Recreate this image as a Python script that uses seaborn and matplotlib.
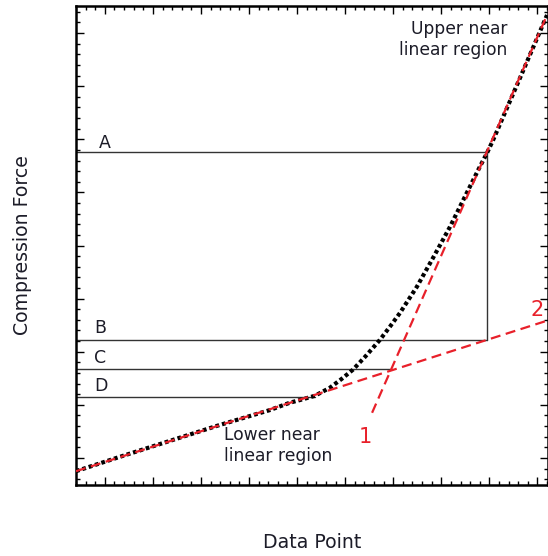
import matplotlib
matplotlib.use('Agg')
import matplotlib.pyplot as plt
from matplotlib.ticker import MultipleLocator
import seaborn as sns

# Messkurve
curve_x = [-60, 31, 135, 239, 343, 385, 406, 437, 468, 493, 516, 543, 572, 593,
           614, 649, 683, 718, 753, 780, 795, 808, 864, 920]
curve_y = [-25, 2, 32, 62, 90, 104, 109, 117, 132, 149, 166, 192, 222, 247,
           273, 322, 377, 435, 499, 548, 574, 599, 716, 834]

# Ausgleichsgeraden
fit1_x = [556, 920]
fit1_y = [85, 834]
fit2_x = [-60, 922]
fit2_y = [-25, 259]

# Hilfslinien A-D
level_names = ['A', 'B', 'C', 'D']
level_y = [576, 222, 168, 115]
level_end_x = [795, 795, 593, 437]
vert_x = 795

x_min, x_max = -60, 922
y_min, y_max = -51, 851

sns.set_style('ticks')
plt.rcParams['font.family'] = ['DejaVu Sans']

fig = plt.figure(figsize=(5.48, 5.56), dpi=100)
ax = fig.add_axes([76 / 548, (556 - 485) / 556, 472 / 548, 479 / 556])

red = '#e8202a'
txt = '#1c1c28'

# Hilfslinien
for name, yv, xe in zip(level_names, level_y, level_end_x):
    ax.plot([x_min, xe], [yv, yv], color='#333333', lw=1.0, zorder=1)
ax.plot([vert_x, vert_x], [level_y[1], level_y[0]], color='#333333', lw=1.0, zorder=1)

# Kurve
sns.lineplot(x=curve_x, y=curve_y, ax=ax, color='black', lw=3.0,
             linestyle=(0, (0.9, 0.7)), sort=False, estimator=None, zorder=2)

# Geraden
sns.lineplot(x=fit1_x, y=fit1_y, ax=ax, color=red, lw=1.6,
             linestyle=(0, (4.5, 2.5)), sort=False, estimator=None, zorder=3)
sns.lineplot(x=fit2_x, y=fit2_y, ax=ax, color=red, lw=1.6,
             linestyle=(0, (4.5, 2.5)), sort=False, estimator=None, zorder=3)

ax.set_xlim(x_min, x_max)
ax.set_ylim(y_min, y_max)

# Beschriftungen
label_pos = {'A': (0, 593), 'B': (-10, 245), 'C': (-10, 188), 'D': (-8, 136)}
for name in level_names:
    ax.text(label_pos[name][0], label_pos[name][1], name, fontsize=12.5,
            color=txt, ha='center', va='center')

ax.text(838, 788, 'Upper near\nlinear region', fontsize=12.3, color=txt,
        ha='right', va='center', linespacing=1.25)
ax.text(248, 23, 'Lower near\nlinear region', fontsize=12.3, color=txt,
        ha='left', va='center', linespacing=1.25)
ax.text(541, 39, '1', fontsize=15, color=red, ha='center', va='center')
ax.text(899, 279, '2', fontsize=15, color=red, ha='center', va='center')

ax.set_xlabel('Data Point', fontsize=13.6, color=txt)
ax.set_ylabel('Compression Force', fontsize=13.6, color=txt)
ax.xaxis.set_label_coords(0.5, -0.100)
ax.yaxis.set_label_coords(-0.093, 0.5)

# Achsen
ax.xaxis.set_major_locator(MultipleLocator(100))
ax.xaxis.set_minor_locator(MultipleLocator(20))
ax.yaxis.set_major_locator(MultipleLocator(100))
ax.yaxis.set_minor_locator(MultipleLocator(20))
ax.tick_params(which='both', direction='in', top=True, right=True,
               labelleft=False, labelbottom=False, color='black', width=1)
ax.tick_params(which='major', length=6)
ax.tick_params(which='minor', length=3)
for s in ax.spines.values():
    s.set_visible(True)
    s.set_linewidth(1.8)
    s.set_color('black')

fig.savefig('out.png', dpi=100)
